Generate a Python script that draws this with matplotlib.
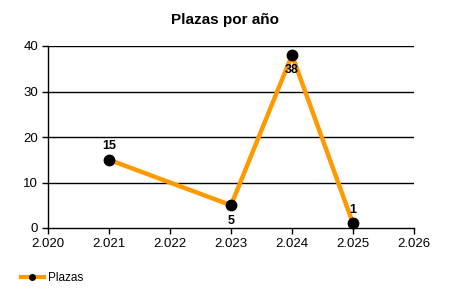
import matplotlib
matplotlib.use("Agg")
import matplotlib.pyplot as plt
from matplotlib.ticker import FuncFormatter

plt.rcParams['font.family'] = ['Liberation Sans', 'DejaVu Sans']

years = [2021, 2023, 2024, 2025]
plazas = [15, 5, 38, 1]
label_pos = ['above', 'below', 'below', 'above']
title = "Plazas por año"
series_name = "Plazas"

fig = plt.figure(figsize=(4.5, 3), dpi=100)
ax = fig.add_axes([48/450, 72/300, 366/450, 182/300])

ax.set_xlim(2020, 2026)
ax.set_ylim(0, 40)
ax.set_xticks(range(2020, 2027))
ax.set_yticks([0, 10, 20, 30, 40])
ax.xaxis.set_major_formatter(FuncFormatter(lambda v, p: f"{int(v)//1000}.{int(v)%1000:03d}"))

for y in [10, 20, 30, 40]:
    ax.axhline(y, color='black', lw=1, zorder=1)

line, = ax.plot(years, plazas, color='#FF9900', lw=3.2, marker='o',
                markersize=7.5, markerfacecolor='black', markeredgecolor='black',
                zorder=3, label=series_name, clip_on=False)

for x, y, pos in zip(years, plazas, label_pos):
    off = 10 if pos == 'above' else -11
    ax.annotate(str(y), (x, y), xytext=(0, off), textcoords='offset points',
                ha='center', va='center', fontsize=9, fontweight='bold', zorder=4)

for s in ['top', 'right']:
    ax.spines[s].set_visible(False)
for s in ['left', 'bottom']:
    ax.spines[s].set_color('black')
    ax.spines[s].set_linewidth(1)
ax.tick_params(axis='both', labelsize=9.5, length=4, width=1, color='black', pad=3)

fig.suptitle(title, fontsize=11, fontweight='bold', y=1 - 20/300, va='center')

leg_handle = plt.Line2D([], [], color='#FF9900', lw=3, marker='o', markersize=4,
                        markerfacecolor='black', markeredgecolor='black')
fig.legend([leg_handle], [series_name], loc='center left',
           bbox_to_anchor=(10/450, 1 - 278/300), frameon=False, fontsize=8.5,
           handlelength=2.0, handletextpad=0.3)

fig.savefig('out.png', dpi=100)
